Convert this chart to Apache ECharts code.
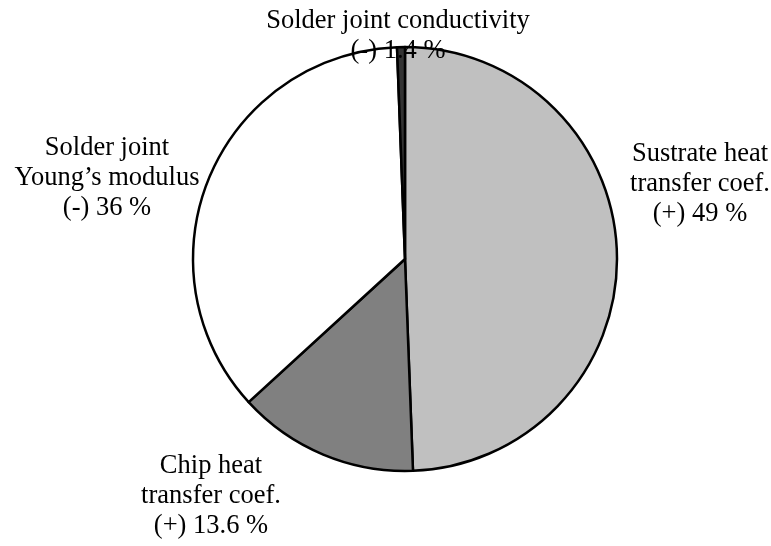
<!DOCTYPE html>
<html>
<head>
<meta charset="utf-8">
<script src="https://cdn.jsdelivr.net/npm/echarts@6/dist/echarts.min.js"></script>
<style>
html,body{margin:0;padding:0;background:#fff;}
#chart{width:771px;height:546px;}
</style>
</head>
<body>
<div id="chart"></div>
<script>
// Data (slice sizes; label texts as printed)
const categories = ['Sustrate heat\ntransfer coef.', 'Chip heat\ntransfer coef.', 'Solder joint\nYoung\u2019s modulus', 'Solder joint conductivity'];
const sliceValues = [49.4, 13.8, 36.2, 0.6];
const printedShares = ['(+) 49 %', '(+) 13.6 %', '(-) 36 %', '(-) 1.4 %'];

// Styling / layout (kept apart from the data)
const sliceColors = ['#c0c0c0', '#808080', '#ffffff', '#333333'];
const labelPos = [[700, 184.5], [211, 496.5], [107, 178], [398, 36]];

const chart = echarts.init(document.getElementById('chart'), null, {renderer: 'canvas'});
chart.setOption({
  backgroundColor: '#ffffff',
  animation: false,
  series: [{
    type: 'pie',
    center: [405, 259],
    radius: 212,
    startAngle: 90,
    clockwise: true,
    avoidLabelOverlap: false,
    data: categories.map((c, i) => ({
      name: c,
      value: sliceValues[i],
      itemStyle: {color: sliceColors[i]}
    })),
    itemStyle: {borderColor: '#000000', borderWidth: 2.5},
    emphasis: {disabled: true},
    label: {
      show: true,
      position: 'outside',
      formatter: p => p.name + '\n' + printedShares[p.dataIndex],
      fontFamily: '"Liberation Serif", "Times New Roman", serif',
      fontSize: 26.5,
      lineHeight: 30,
      color: '#000000',
      align: 'center'
    },
    labelLine: {show: false},
    labelLayout: p => ({
      x: labelPos[p.dataIndex][0],
      y: labelPos[p.dataIndex][1],
      align: 'center',
      verticalAlign: 'middle'
    })
  }]
});
</script>
</body>
</html>
